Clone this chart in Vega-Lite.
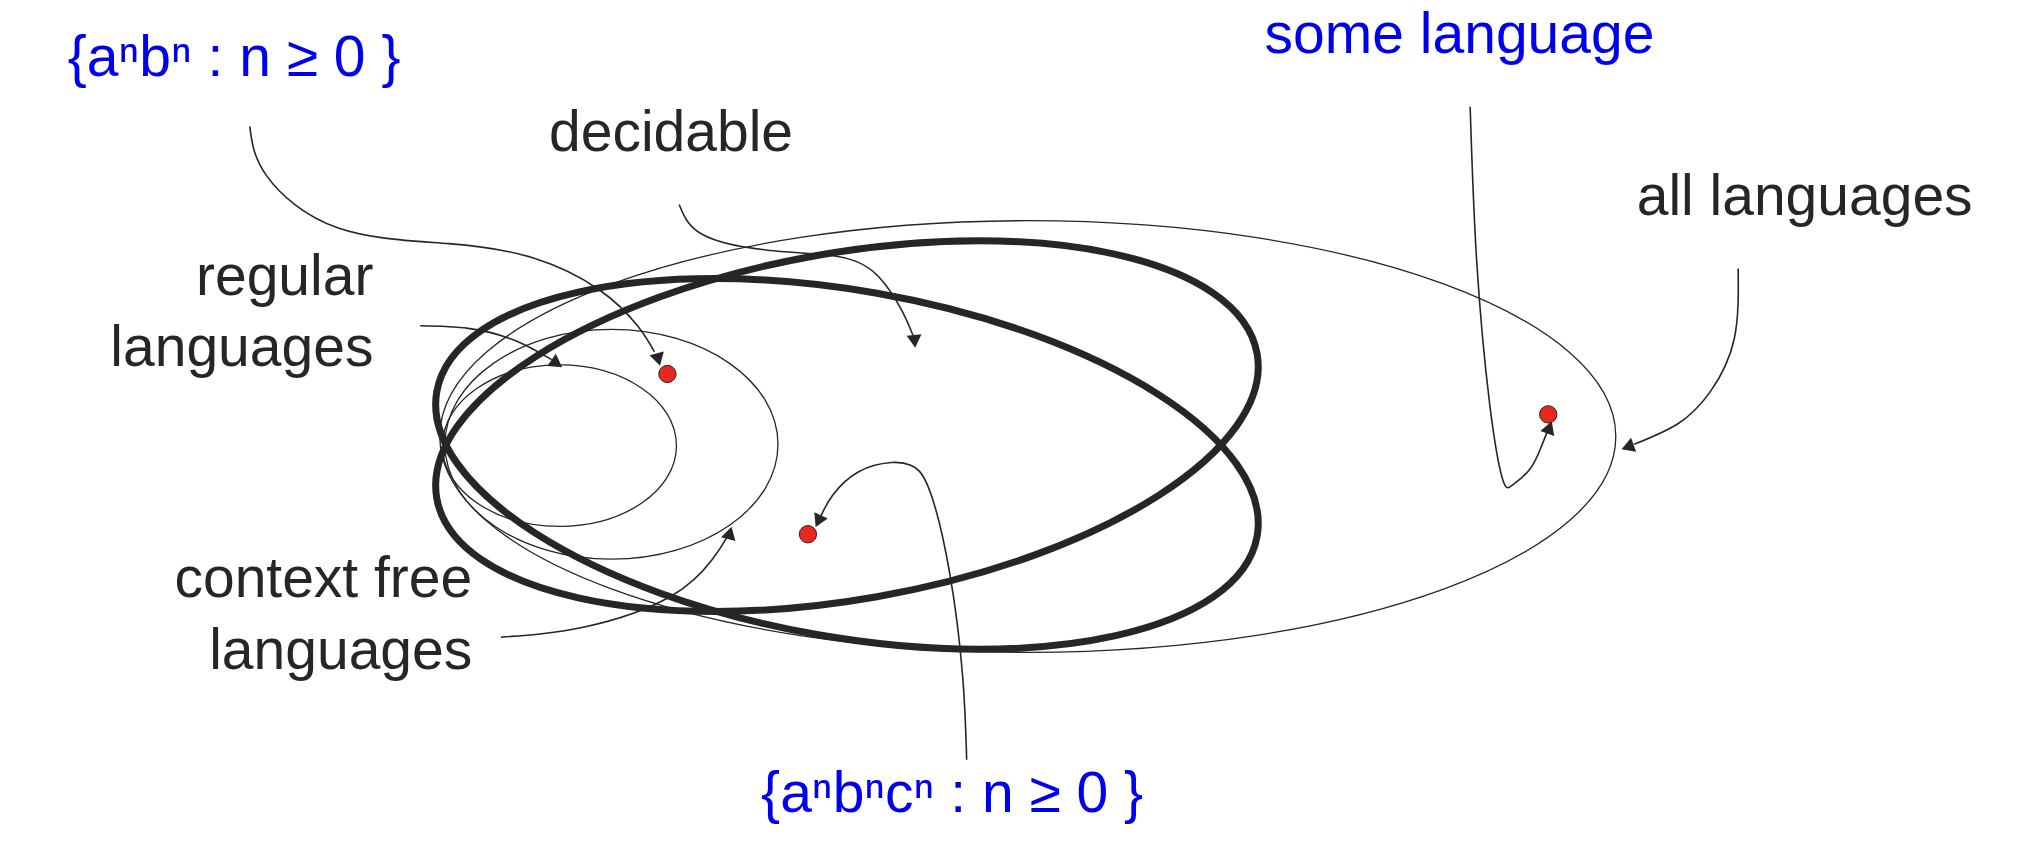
{
"$schema":"https://vega.github.io/schema/vega-lite/v6.json",
"autosize":{"type":"none"},
"width":2040,"height":860,"padding":0,
"background":"white",
"config":{"view":{"stroke":null},"axis":{"disable":true}},
"datasets":{
"ellipses":[
{"name":"all","x":790,"y":335},
{"name":"cf","x":470,"y":341},
{"name":"regular","x":430,"y":342},
{"name":"decA","x":651,"y":327},
{"name":"decB","x":651,"y":356}
],
"dots":[{"x":513,"y":287},{"x":621,"y":410},{"x":1190,"y":318}],
"curves":[
{"c":"1","o":1,"x":192,"y":97},{"c":"1","o":2,"x":205,"y":135},{"c":"1","o":3,"x":260,"y":175},{"c":"1","o":4,"x":345,"y":187},{"c":"1","o":5,"x":410,"y":198},{"c":"1","o":6,"x":460,"y":222},{"c":"1","o":7,"x":490,"y":250},{"c":"1","o":8,"x":503,"y":270},
{"c":"2","o":1,"x":522,"y":157},{"c":"2","o":2,"x":540,"y":180},{"c":"2","o":3,"x":590,"y":192},{"c":"2","o":4,"x":645,"y":197},{"c":"2","o":5,"x":675,"y":212},{"c":"2","o":6,"x":693,"y":238},{"c":"2","o":7,"x":702,"y":258},
{"c":"3","o":1,"x":323,"y":250},{"c":"3","o":2,"x":360,"y":252},{"c":"3","o":3,"x":395,"y":261},{"c":"3","o":4,"x":424,"y":276},
{"c":"4","o":1,"x":385,"y":489},{"c":"4","o":2,"x":450,"y":481},{"c":"4","o":3,"x":515,"y":458},{"c":"4","o":4,"x":547,"y":430},{"c":"4","o":5,"x":559,"y":412},
{"c":"5","o":1,"x":743,"y":583},{"c":"5","o":2,"x":740,"y":520},{"c":"5","o":3,"x":730,"y":440},{"c":"5","o":4,"x":714,"y":375},{"c":"5","o":5,"x":700,"y":357},{"c":"5","o":6,"x":685,"y":355},{"c":"5","o":7,"x":660,"y":362},{"c":"5","o":8,"x":640,"y":380},{"c":"5","o":9,"x":631,"y":396},
{"c":"6","o":1,"x":1130,"y":82},{"c":"6","o":2,"x":1135,"y":200},{"c":"6","o":3,"x":1145,"y":310},{"c":"6","o":4,"x":1155,"y":368},{"c":"6","o":5,"x":1163,"y":372},{"c":"6","o":6,"x":1176,"y":360},{"c":"6","o":7,"x":1185,"y":342},{"c":"6","o":8,"x":1189,"y":332},
{"c":"7","o":1,"x":1336,"y":206},{"c":"7","o":2,"x":1333,"y":260},{"c":"7","o":3,"x":1315,"y":300},{"c":"7","o":4,"x":1290,"y":325},{"c":"7","o":5,"x":1256,"y":341}
],
"arrows":[
{"x":506,"y":276,"a":165},{"x":703,"y":262,"a":175},{"x":428,"y":279,"a":125},{"x":561,"y":409,"a":15},{"x":629,"y":400,"a":205},{"x":1191,"y":328,"a":20},{"x":1251,"y":343,"a":250}
],
"labelsL":[
{"t":"decidable","x":422,"y":103,"col":"#262626"},
{"t":"all languages","x":1258,"y":152,"col":"#262626"},
{"t":"{aⁿbⁿ : n ≥ 0 }","x":52,"y":45,"col":"#0000ee"},
{"t":"some language","x":972,"y":28,"col":"#0000ee"},
{"t":"{aⁿbⁿcⁿ : n ≥ 0 }","x":585,"y":610,"col":"#0000ee"}
],
"labelsR":[
{"t":"regular","x":287,"y":213},
{"t":"languages","x":287,"y":268},
{"t":"context free","x":363,"y":445},
{"t":"languages","x":363,"y":500}
]
},
"encoding":{
"x":{"field":"x","type":"quantitative","scale":{"domain":[0,1568],"nice":false,"zero":false},"axis":null},
"y":{"field":"y","type":"quantitative","scale":{"domain":[0,660],"reverse":true,"nice":false,"zero":false},"axis":null}
},
"layer":[
{"data":{"name":"ellipses"},"transform":[{"filter":"datum.name=='all'"}],
 "mark":{"type":"point","shape":"M -1 0 A 1 0.367 0 1 0 1 0 A 1 0.367 0 1 0 -1 0 Z","size":1382976,"filled":false,"stroke":"#262626","strokeWidth":1.3,"opacity":1}},
{"data":{"name":"ellipses"},"transform":[{"filter":"datum.name=='cf'"}],
 "mark":{"type":"point","shape":"M -1 0 A 1 0.69 0 1 0 1 0 A 1 0.69 0 1 0 -1 0 Z","size":110889,"filled":false,"stroke":"#262626","strokeWidth":1.3,"opacity":1}},
{"data":{"name":"ellipses"},"transform":[{"filter":"datum.name=='regular'"}],
 "mark":{"type":"point","shape":"M -1 0 A 1 0.69 0 1 0 1 0 A 1 0.69 0 1 0 -1 0 Z","size":54756,"filled":false,"stroke":"#262626","strokeWidth":1.3,"opacity":1}},
{"data":{"name":"ellipses"},"transform":[{"filter":"datum.name=='decA'"}],
 "mark":{"type":"point","shape":"M -1 0 A 1 0.416 0 1 0 1 0 A 1 0.416 0 1 0 -1 0 Z","size":693889,"angle":350,"filled":false,"stroke":"#262626","strokeWidth":7,"opacity":1}},
{"data":{"name":"ellipses"},"transform":[{"filter":"datum.name=='decB'"}],
 "mark":{"type":"point","shape":"M -1 0 A 1 0.416 0 1 0 1 0 A 1 0.416 0 1 0 -1 0 Z","size":693889,"angle":10,"filled":false,"stroke":"#262626","strokeWidth":7,"opacity":1}},
{"data":{"name":"curves"},"mark":{"type":"line","interpolate":"natural","stroke":"#262626","strokeWidth":1.6},
 "encoding":{"detail":{"field":"c"},"order":{"field":"o","type":"quantitative"}}},
{"data":{"name":"dots"},"mark":{"type":"circle","size":300,"fill":"#e8281e","stroke":"#262626","strokeWidth":1,"opacity":1}},
{"data":{"name":"arrows"},"mark":{"type":"point","shape":"triangle-up","size":220,"filled":true,"fill":"#262626","opacity":1},
 "encoding":{"angle":{"field":"a","type":"quantitative","scale":null}}},
{"data":{"name":"labelsL"},"mark":{"type":"text","font":"Liberation Sans","fontSize":57,"baseline":"middle","align":"left"},
 "encoding":{"text":{"field":"t"},"color":{"field":"col","scale":null}}},
{"data":{"name":"labelsR"},"mark":{"type":"text","font":"Liberation Sans","fontSize":57,"baseline":"middle","align":"right","color":"#262626"},
 "encoding":{"text":{"field":"t"}}}
]
}
